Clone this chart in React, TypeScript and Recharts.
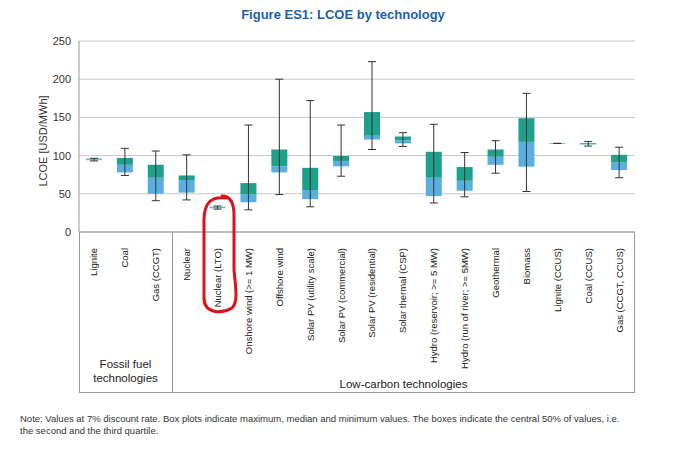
import React from 'react';
import { ComposedChart, Bar, XAxis, YAxis, CartesianGrid, ErrorBar } from 'recharts';

const categories = [
  'Lignite', 'Coal', 'Gas (CCGT)', 'Nuclear', 'Nuclear (LTO)', 'Onshore wind (>= 1 MW)',
  'Offshore wind', 'Solar PV (utility scale)', 'Solar PV (commercial)', 'Solar PV (residential)',
  'Solar thermal (CSP)', 'Hydro (reservoir; >= 5 MW)', 'Hydro (run of river; >= 5MW)',
  'Geothermal', 'Biomass', 'Lignite (CCUS)', 'Coal (CCUS)', 'Gas (CCGT, CCUS)',
];
const minVals = [93, 74, 41, 42, 30, 29, 49, 33, 73, 108, 112, 38, 46, 77, 53, 116, 112.5, 71];
const q1Vals = [94, 78, 50, 51.5, 31, 39, 78, 43, 86, 121, 116, 47, 54, 88, 85.5, 115.5, 114.5, 81];
const medVals = [95, 88, 71, 68, 32, 49, 86, 55, 93, 126, 120, 71, 67, 98.5, 118, 116, 115.5, 91];
const q3Vals = [96, 97, 88, 74, 33, 64, 108, 84, 99.5, 157, 125, 105, 85, 108, 149, 116.5, 116.5, 101];
const maxVals = [96.5, 109.5, 106, 101, 34, 140, 200, 172, 140, 223, 130, 141, 104, 119.5, 181.5, 116, 118.5, 111];
const yTicks = [0, 50, 100, 150, 200, 250];

const data = categories.map((name, i) => ({
  name,
  base: q1Vals[i],
  lower: medVals[i] - q1Vals[i],
  upper: q3Vals[i] - medVals[i],
  err: [q1Vals[i] - minVals[i], maxVals[i] - q1Vals[i]],
}));

const CatTick = ({ x, y, payload }: any) => (
  <text x={x + 3} y={y + 8} transform={`rotate(-90 ${x + 3} ${y + 8})`} textAnchor="end"
    fontSize={9.5} fill="#222" fontFamily="Arial, Liberation Sans, sans-serif">
    {payload.value}
  </text>
);

export default function App() {
  const font = 'Arial, Liberation Sans, sans-serif';
  return (
    <div style={{ position: 'absolute', left: 0, top: 0, width: 680, height: 450, background: '#fff', fontFamily: font }}>
      <div style={{ position: 'absolute', top: 7, left: 0, width: 686, textAlign: 'center', color: '#1c5fa8', fontWeight: 'bold', fontSize: 13 }}>
        Figure ES1: LCOE by technology
      </div>
      <div style={{ position: 'absolute', left: 0, top: 0 }}>
        <ComposedChart width={680} height={400} data={data} margin={{ top: 41, right: 45, left: 39, bottom: 0 }} barSize={16}>
          <CartesianGrid vertical={false} stroke="#c8c8c8" />
          <XAxis dataKey="name" interval={0} height={168} tick={<CatTick />} tickLine={false} axisLine={{ stroke: '#999' }} />
          <YAxis domain={[0, 250]} ticks={yTicks} width={40} tickLine={false} axisLine={{ stroke: '#999' }}
            tick={{ fontSize: 11, fill: '#333', fontFamily: font }}
            label={{ value: 'LCOE [USD/MWh]', angle: -90, position: 'insideLeft', offset: 4, dy: 50, fontSize: 11, fill: '#333', fontFamily: font }} />
          <Bar dataKey="base" stackId="a" fill="transparent" isAnimationActive={false}>
            <ErrorBar dataKey="err" width={4} stroke="#333" strokeWidth={1} />
          </Bar>
          <Bar dataKey="lower" stackId="a" fill="#5aafe0" isAnimationActive={false} />
          <Bar dataKey="upper" stackId="a" fill="#1fa08a" isAnimationActive={false} />
        </ComposedChart>
      </div>
      <div style={{ position: 'absolute', left: 79, top: 232, width: 556, height: 161, border: '1px solid #999', borderTop: 'none', boxSizing: 'border-box' }} />
      <div style={{ position: 'absolute', left: 172, top: 232, width: 1, height: 161, background: '#999' }} />
      <div style={{ position: 'absolute', left: 79, top: 357, width: 93, textAlign: 'center', fontSize: 11.5, color: '#222', lineHeight: '14px' }}>
        Fossil fuel<br />technologies
      </div>
      <div style={{ position: 'absolute', left: 172, top: 378, width: 463, textAlign: 'center', fontSize: 11.5, color: '#222' }}>
        Low-carbon technologies
      </div>
      <div style={{ position: 'absolute', left: 20, top: 413, width: 600, fontSize: 9.5, color: '#333', lineHeight: '12px' }}>
        Note: Values at 7% discount rate. Box plots indicate maximum, median and minimum values. The boxes indicate the central 50% of values, i.e. the second and the third quartile.
      </div>
      <svg style={{ position: 'absolute', left: 0, top: 0 }} width={680} height={450}>
        <path d="M226 198 C212 196 204 202 204 220 L204 298 C204 314 222 314 232 308 C238 302 236 290 234 270 L234 215 C234 202 230 196 222 196"
          fill="none" stroke="#e0101a" strokeWidth={3} strokeLinecap="round" />
      </svg>
    </div>
  );
}
